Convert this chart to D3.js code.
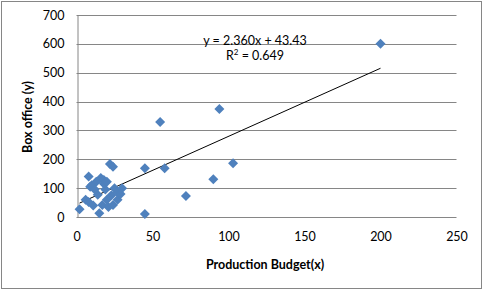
<!DOCTYPE html>
<html>
<head>
<meta charset="utf-8">
<script src="https://cdn.jsdelivr.net/npm/d3@7"></script>
<style>
  body { margin: 0; background: #fff; }
  text { font-family: Lato, "Open Sans", sans-serif; fill: #000; }
</style>
</head>
<body>
<div id="chart"></div>
<script>
// Data
const budget = [2, 8, 9, 10, 6, 8, 11, 16, 18, 19, 15, 17, 20, 21, 22, 24, 23, 25, 27, 24, 30, 14, 13, 18, 12, 20, 27, 29,
  45, 45, 55, 58, 72, 90, 94, 103, 200];
const boxOffice = [27, 140, 105, 110, 60, 52, 40, 135, 128, 95, 13, 42, 60, 35, 184, 174, 75, 100, 86, 42, 100, 77, 122, 115, 95, 122, 60, 80,
  169, 10, 329, 169, 73, 131, 374, 186, 600];
const xTicks = [0, 50, 100, 150, 200, 250];
const yTicks = [0, 100, 200, 300, 400, 500, 600, 700];
const slope = 2.360, intercept = 43.43, rSquared = 0.649;

const width = 483, height = 291;
const margin = { top: 15, right: 26.5, bottom: 74, left: 76.5 };

const svg = d3.select("#chart").append("svg")
    .attr("width", width)
    .attr("height", height);

// outer frame
svg.append("rect")
    .attr("x", 1.5).attr("y", 1.5)
    .attr("width", width - 3).attr("height", height - 4)
    .attr("fill", "none")
    .attr("stroke", "#868686");

const x = d3.scaleLinear().domain([0, 250]).range([margin.left, width - margin.right]);
const y = d3.scaleLinear().domain([0, 700]).range([height - margin.bottom, margin.top]);

// gridlines
svg.append("g")
    .selectAll("line")
    .data(yTicks)
    .join("line")
    .attr("x1", x(0)).attr("x2", x(250))
    .attr("y1", d => Math.round(y(d)) + 0.5)
    .attr("y2", d => Math.round(y(d)) + 0.5)
    .attr("stroke", "#868686");

// y axis
const yAxis = svg.append("g")
    .attr("transform", `translate(${Math.round(x(0)) + 0.5},0)`)
    .call(d3.axisLeft(y).tickValues(yTicks).tickSize(0).tickPadding(13));
yAxis.select(".domain").attr("stroke", "#868686");
yAxis.selectAll("text").style("font-size", "12.5px").attr("font-family", null);

// x axis (labels only, the 0 gridline is the baseline)
const xAxis = svg.append("g")
    .attr("transform", `translate(0,${y(0) + 15})`)
    .call(d3.axisBottom(x).tickValues(xTicks).tickSize(0).tickPadding(0));
xAxis.select(".domain").remove();
xAxis.selectAll("text").style("font-size", "12.5px").attr("font-family", null);

// axis titles
svg.append("text")
    .attr("x", 265).attr("y", 269)
    .attr("text-anchor", "middle")
    .style("font-size", "12.5px")
    .style("font-weight", "bold")
    .text("Production Budget(x)");

svg.append("text")
    .attr("transform", "translate(32,117) rotate(-90)")
    .attr("text-anchor", "middle")
    .style("font-size", "12.5px")
    .style("font-weight", "bold")
    .text("Box office (y)");

// trend line
const xExt = d3.extent(budget);
svg.append("line")
    .attr("x1", x(xExt[0])).attr("y1", y(slope * xExt[0] + intercept))
    .attr("x2", x(xExt[1])).attr("y2", y(slope * xExt[1] + intercept))
    .attr("stroke", "#000")
    .attr("stroke-width", 1);

// points
const points = budget.map((b, i) => ({ x: b, y: boxOffice[i] }));
svg.append("g")
    .selectAll("path")
    .data(points)
    .join("path")
    .attr("d", d3.symbol(d3.symbolSquare, 50))
    .attr("transform", d => `translate(${x(d.x)},${y(d.y)}) rotate(45)`)
    .attr("fill", "#4F81BD");

// equation label
svg.append("text")
    .attr("x", 255).attr("y", 45)
    .attr("text-anchor", "middle")
    .style("font-size", "12.5px")
    .text(`y = ${slope.toFixed(3)}x + ${intercept.toFixed(2)}`);

const r2 = svg.append("text")
    .attr("x", 255).attr("y", 60)
    .attr("text-anchor", "middle")
    .style("font-size", "12.5px");
r2.append("tspan").text("R");
r2.append("tspan").attr("dy", -5).style("font-size", "8px").text("2");
r2.append("tspan").attr("dy", 5).text(` = ${rSquared.toFixed(3)}`);
</script>
</body>
</html>
